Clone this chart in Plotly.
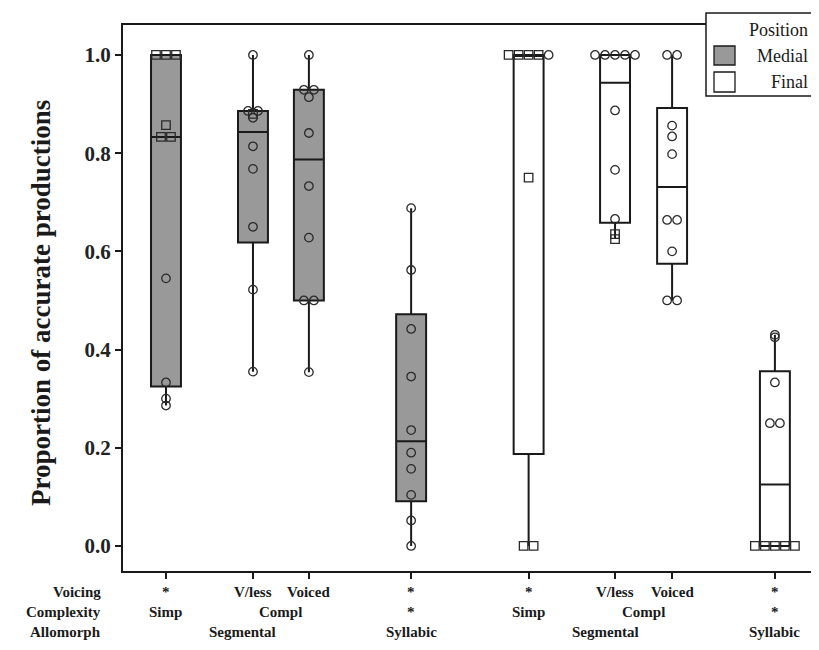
import plotly.graph_objects as go

# ---------------- data ----------------
position = ["Medial", "Medial", "Medial", "Medial", "Final", "Final", "Final", "Final"]
voicing = ["*", "V/less", "Voiced", "*", "*", "V/less", "Voiced", "*"]
complexity = ["Simp", "Compl", "Compl", "*", "Simp", "Compl", "Compl", "*"]
allomorph = ["Segmental", "Segmental", "Segmental", "Syllabic",
             "Segmental", "Segmental", "Segmental", "Syllabic"]

medial_simp = [1.0, 1.0, 1.0, 0.857, 0.833, 0.833, 0.545, 0.333, 0.300, 0.286]
medial_simp_set = ["b", "b", "b", "b", "b", "b", "a", "a", "a", "a"]
medial_vless = [1.0, 0.886, 0.886, 0.880, 0.872, 0.814, 0.768, 0.650, 0.522, 0.355]
medial_vless_set = ["a", "a", "a", "b", "a", "a", "a", "a", "a", "a"]
medial_voiced = [1.0, 0.929, 0.929, 0.914, 0.841, 0.733, 0.628, 0.500, 0.500, 0.354]
medial_voiced_set = ["a"] * 10
medial_syll = [0.688, 0.562, 0.442, 0.345, 0.236, 0.190, 0.157, 0.104, 0.052, 0.0]
medial_syll_set = ["a"] * 10
final_simp = [1.0, 1.0, 1.0, 1.0, 1.0, 0.75, 0.0, 0.0]
final_simp_set = ["b", "b", "b", "b", "a", "b", "b", "b"]
final_vless = [1.0, 1.0, 1.0, 1.0, 1.0, 0.887, 0.766, 0.666, 0.635, 0.625]
final_vless_set = ["a", "a", "a", "a", "a", "a", "a", "a", "b", "b"]
final_voiced = [1.0, 1.0, 0.856, 0.834, 0.798, 0.664, 0.664, 0.600, 0.500, 0.500]
final_voiced_set = ["a"] * 10
final_syll = [0.430, 0.425, 0.333, 0.25, 0.25, 0.0, 0.0, 0.0, 0.0, 0.0]
final_syll_set = ["a", "a", "a", "a", "a", "b", "b", "b", "b", "b"]

series = [medial_simp, medial_vless, medial_voiced, medial_syll,
          final_simp, final_vless, final_voiced, final_syll]
series_sets = [medial_simp_set, medial_vless_set, medial_voiced_set, medial_syll_set,
               final_simp_set, final_vless_set, final_voiced_set, final_syll_set]

y_ticks = [0.0, 0.2, 0.4, 0.6, 0.8, 1.0]
legend_labels = ["Medial", "Final"]

# ---------------- layout constants ----------------
box_x = [1.0, 2.54, 3.53, 5.34, 7.42, 8.95, 9.96, 11.78]
X_RANGE = [0.239, 12.49]
Y_RANGE = [-0.051, 1.061]
OFF = 8                      # page body margin of the html document
W, H = 819 - OFF, 650 - 2 * OFF
L, T = 123 - OFF, 25 - OFF
R = W - (815 - OFF)
B = H - (571 - OFF)
PW, PH = W - L - R, H - T - B
FILL = {"Medial": "#999999", "Final": "#ffffff"}
SYMBOL = {"a": "circle-open", "b": "square-open"}
TIE_STEP = 0.177
SERIF = "Liberation Serif, Times New Roman, serif"
INK = "#1a1a1a"


def px_x(p):
    return (p - OFF - L) / PW


def px_y(p):
    return (T + PH - (p - OFF)) / PH


def quantile(sorted_vals, p):
    # (n+1)p interpolation, as used by Minitab
    n = len(sorted_vals)
    pos = p * (n + 1)
    if pos <= 1:
        return sorted_vals[0]
    if pos >= n:
        return sorted_vals[-1]
    lo = int(pos)
    frac = pos - lo
    return sorted_vals[lo - 1] + frac * (sorted_vals[lo] - sorted_vals[lo - 1])


def box_stats(vals):
    s = sorted(vals)
    q1, med, q3 = quantile(s, 0.25), quantile(s, 0.5), quantile(s, 0.75)
    iqr = q3 - q1
    lf = min(v for v in s if v >= q1 - 1.5 * iqr)
    uf = max(v for v in s if v <= q3 + 1.5 * iqr)
    return q1, med, q3, lf, uf


def tie_offsets(vals):
    counts = {}
    for v in vals:
        counts[v] = counts.get(v, 0) + 1
    seen = {}
    offs = []
    for v in vals:
        k = seen.get(v, 0)
        seen[v] = k + 1
        m = counts[v]
        offs.append((k - (m - 1) / 2) * TIE_STEP)
    return offs


fig = go.Figure()

for i, vals in enumerate(series):
    q1, med, q3, lf, uf = box_stats(vals)
    fig.add_trace(go.Box(
        x=[box_x[i]], q1=[q1], median=[med], q3=[q3],
        lowerfence=[lf], upperfence=[uf],
        boxpoints=False, width=0.53, whiskerwidth=0,
        fillcolor=FILL[position[i]],
        line=dict(color=INK, width=2),
        showlegend=False, hoverinfo="skip",
    ))

for i, vals in enumerate(series):
    offs = tie_offsets(vals)
    sets = series_sets[i]
    for s in ("a", "b"):
        xs = [box_x[i] + o for o, k in zip(offs, sets) if k == s]
        ys = [v for v, k in zip(vals, sets) if k == s]
        if not ys:
            continue
        fig.add_trace(go.Scatter(
            x=xs, y=ys, mode="markers",
            marker=dict(symbol=SYMBOL[s], size=8.5, color="#2a2a2a",
                        line=dict(width=1.3, color="#2a2a2a")),
            showlegend=False, hoverinfo="skip",
        ))

annotations = []
# y-axis title
annotations.append(dict(
    text="<b>Proportion of accurate productions</b>", textangle=-90,
    xref="paper", yref="paper", x=px_x(41), y=px_y(303),
    xanchor="center", yanchor="middle", showarrow=False,
    font=dict(family=SERIF, size=27, color=INK),
))

# category label rows
row_y = [592, 612, 632]
row_names = ["Voicing", "Complexity", "Allomorph"]
for name, ry in zip(row_names, row_y):
    annotations.append(dict(
        text="<b>%s</b>" % name, xref="paper", yref="paper",
        x=px_x(103), y=px_y(ry), xanchor="right", yanchor="middle",
        showarrow=False, font=dict(family=SERIF, size=15, color=INK),
    ))


def grouped(labels, parents):
    groups = []
    for i, lab in enumerate(labels):
        key = (parents[i], lab)
        if groups and groups[-1][0] == key:
            groups[-1][1].append(i)
        else:
            groups.append((key, [i]))
    return groups


rows = [
    (voicing, [(p, c, a, k) for k, (p, c, a) in enumerate(zip(position, complexity, allomorph))]),
    (complexity, [(p, a) for p, a in zip(position, allomorph)]),
    (allomorph, [(p,) for p in position]),
]
for (labels, parents), ry in zip(rows, row_y):
    for (key, idx) in grouped(labels, parents):
        xc = sum(box_x[j] for j in idx) / len(idx)
        annotations.append(dict(
            text="<b>%s</b>" % key[1], xref="x", yref="paper",
            x=xc, y=px_y(ry), xanchor="center", yanchor="middle",
            showarrow=False, font=dict(family=SERIF, size=15, color=INK),
        ))

# legend (drawn manually)
shapes = [
    dict(type="rect", xref="paper", yref="paper", layer="above",
         x0=px_x(706), x1=px_x(840), y0=px_y(96), y1=px_y(13),
         fillcolor="white", line=dict(color=INK, width=1.5)),
    dict(type="rect", xref="paper", yref="paper", layer="above",
         x0=px_x(714), x1=px_x(735), y0=px_y(65), y1=px_y(46),
         fillcolor=FILL["Medial"], line=dict(color=INK, width=1.3)),
    dict(type="rect", xref="paper", yref="paper", layer="above",
         x0=px_x(714), x1=px_x(735), y0=px_y(92), y1=px_y(72),
         fillcolor=FILL["Final"], line=dict(color=INK, width=1.3)),
]
for txt, ly in [("Position", 30)] + list(zip(legend_labels, [56, 82])):
    annotations.append(dict(
        text=txt, xref="paper", yref="paper", x=px_x(810), y=px_y(ly),
        xanchor="right", yanchor="middle", showarrow=False,
        font=dict(family=SERIF, size=18, color=INK),
    ))

fig.update_layout(
    width=W, height=H, margin=dict(l=L, r=R, t=T, b=B, autoexpand=False),
    paper_bgcolor="white", plot_bgcolor="white",
    showlegend=False, annotations=annotations, shapes=shapes,
    xaxis=dict(range=X_RANGE, tickvals=box_x, showticklabels=False,
               ticks="outside", ticklen=6, tickwidth=1.8, tickcolor=INK,
               showline=True, linecolor=INK, linewidth=2, mirror=True,
               showgrid=False, zeroline=False),
    yaxis=dict(range=Y_RANGE, tickvals=y_ticks, tickformat=".1f",
               ticks="outside", ticklen=6, tickwidth=1.8, tickcolor=INK,
               tickfont=dict(family=SERIF, size=21, color="#222222", weight="bold"),
               showline=True, linecolor=INK, linewidth=2, mirror=True,
               showgrid=False, zeroline=False),
)

fig.write_html("out.html")
